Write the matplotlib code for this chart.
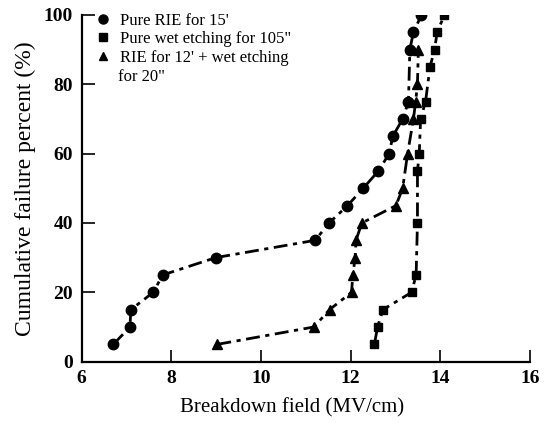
import numpy as np
import matplotlib
matplotlib.use('Agg')
import matplotlib.pyplot as plt
from matplotlib.lines import Line2D

plt.rcParams['font.family'] = ['Liberation Serif', 'DejaVu Serif']

# 纯 RIE 15'
rie_x = [6.71, 7.08, 7.10, 7.60, 7.81, 8.99, 11.21, 11.52, 11.93, 12.28,
         12.62, 12.86, 12.94, 13.16, 13.29, 13.32, 13.40, 13.58]
rie_y = [5, 10, 15, 20, 25, 30, 35, 40, 45, 50, 55, 60, 65, 70, 75, 90, 95, 100]

# 纯湿法刻蚀 105"
wet_x = [12.53, 12.60, 12.72, 13.36, 13.46, 13.49, 13.49, 13.53, 13.56,
         13.67, 13.77, 13.87, 13.93, 14.09]
wet_y = [5, 10, 15, 20, 25, 40, 55, 60, 70, 75, 85, 90, 95, 100]

# RIE 12' + 湿法 20"
mix_x = [9.03, 11.18, 11.53, 12.02, 12.05, 12.10, 12.12, 12.25, 13.01,
         13.16, 13.27, 13.40, 13.45, 13.49, 13.51]
mix_y = [5, 10, 15, 20, 25, 30, 35, 40, 45, 50, 60, 70, 75, 80, 90]

labels = ["Pure RIE for 15'", 'Pure wet etching for 105"',
          "RIE for 12' + wet etching"]

fig = plt.figure(figsize=(5.47, 4.26), dpi=100)
ax = fig.add_axes([0.149, 0.151, 0.820, 0.814])

dash = (0, (5, 2, 1.5, 2))
ax.plot(rie_x, rie_y, color='black', lw=2, linestyle=dash,
        marker='o', markersize=7.5)
ax.plot(wet_x, wet_y, color='black', lw=2, linestyle=dash,
        marker='s', markersize=6)
ax.plot(mix_x, mix_y, color='black', lw=2, linestyle=dash,
        marker='^', markersize=6.5)

ax.set_xlim(6, 16)
ax.set_ylim(0, 100)
ax.set_xticks(np.arange(6, 17, 2))
ax.set_yticks(np.arange(0, 101, 20))
ax.spines['top'].set_visible(False)
ax.spines['right'].set_visible(False)
for s in ['left', 'bottom']:
    ax.spines[s].set_linewidth(1.6)
ax.tick_params(direction='in', length=9, width=1.2, labelsize=14, pad=6)
for t in ax.get_xticklabels() + ax.get_yticklabels():
    t.set_fontweight('bold')

ax.set_xlabel('Breakdown field (MV/cm)', fontsize=15, labelpad=8, x=0.47)
ax.set_ylabel('Cumulative failure percent (%)', fontsize=17, labelpad=6)

handles = [Line2D([], [], color='black', marker=m, linestyle='none', markersize=sz)
           for m, sz in [('o', 6.5), ('s', 5.5), ('^', 6)]]
ax.legend(handles, labels, loc='upper left', bbox_to_anchor=(0.0, 1.05),
          frameon=False, fontsize=12, handlelength=0.8, handletextpad=0.6,
          labelspacing=0.15)
ax.text(0.081, 0.822, 'for 20"', transform=ax.transAxes, fontsize=12,
        va='center', ha='left')

fig.savefig('out.png', dpi=100)
